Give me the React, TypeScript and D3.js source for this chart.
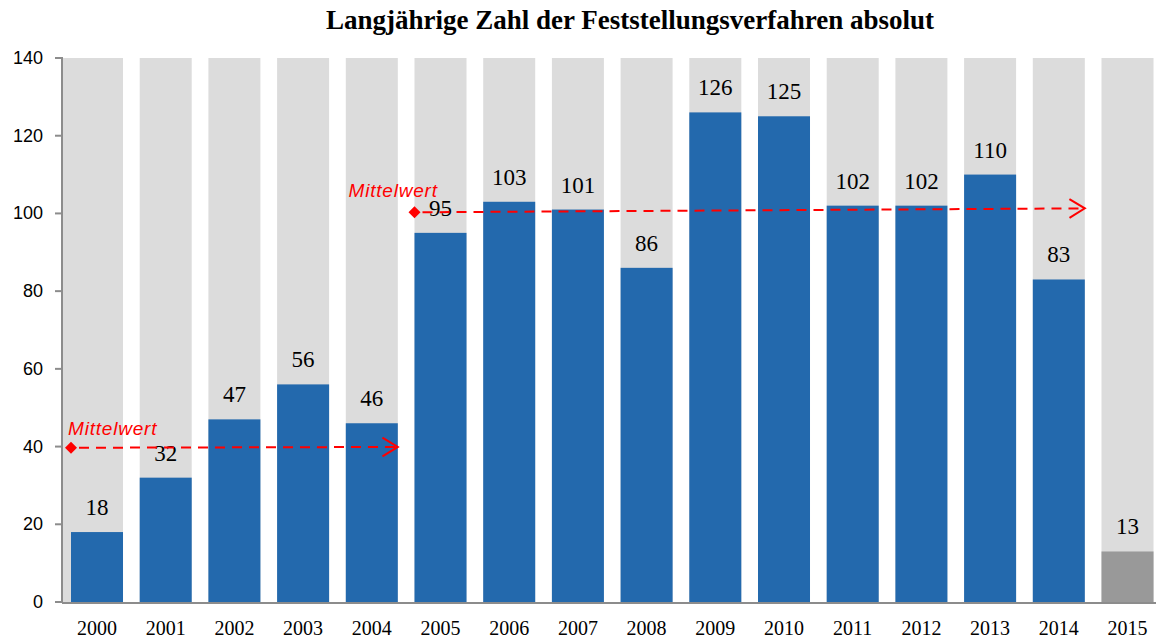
import React from "react";
import * as d3 from "d3";

const years = ["2000","2001","2002","2003","2004","2005","2006","2007","2008","2009","2010","2011","2012","2013","2014","2015"];
const values = [18, 32, 47, 56, 46, 95, 103, 101, 86, 126, 125, 102, 102, 110, 83, 13];
const partialYear = "2015";
const yTicks = [0, 20, 40, 60, 80, 100, 120, 140];
const yMax = 140;
const title = "Langjährige Zahl der Feststellungsverfahren absolut";
const meanLabel = "Mittelwert";
// mean lines: [fromYear, toYear, startValue, endValue]
const meanLines: [string, string, number, number][] = [
  ["2000", "2004", 39.7, 39.9],
  ["2005", "2014", 100.3, 101.3],
];

const W = 1156, H = 641;
const axisX = 62, top = 58, bottom = 602;

export default function App() {
  const step = 68.7;
  const pIn = 0.243, pOut = 9 / step;
  const x = d3.scaleBand<string>()
    .domain(years)
    .range([axisX, axisX + step * (years.length - pIn + 2 * pOut)])
    .paddingInner(pIn)
    .paddingOuter(pOut);
  const y = d3.scaleLinear().domain([0, yMax]).range([bottom, top]);
  const bw = x.bandwidth();
  const blue = "#2369ad";
  const bg = "#dcdcdc";
  const red = "#ff0000";
  const axisColor = "#8c8c8c";

  return (
    <svg width={W} height={H} style={{ position: "absolute", left: 0, top: 0, background: "#fff" }}>
      <text x={630} y={29} textAnchor="middle" fontFamily="'Liberation Serif', 'Times New Roman', serif" fontWeight="bold" fontSize={27}>{title}</text>

      {years.map((yr, i) => {
        const x0 = i === 0 ? axisX + 1 : (x(yr) as number);
        const x1 = (x(yr) as number) + bw;
        return <rect key={"bg" + yr} x={x0} y={y(yMax)} width={x1 - x0} height={y(0) - y(yMax)} fill={bg} />;
      })}

      {years.map((yr, i) => (
        <rect key={"b" + yr} x={x(yr)} y={y(values[i])} width={bw} height={y(0) - y(values[i])}
          fill={yr === partialYear ? "#999999" : blue} />
      ))}

      {years.map((yr, i) => (
        <text key={"v" + yr} x={(x(yr) as number) + bw / 2} y={y(values[i]) - 17} textAnchor="middle"
          fontFamily="'Liberation Serif', 'Times New Roman', serif" fontSize={23} fill="#000">{values[i]}</text>
      ))}

      {/* axes */}
      <line x1={axisX} x2={axisX} y1={top - 1} y2={bottom + 1} stroke={axisColor} strokeWidth={2} />
      <line x1={axisX} x2={W} y1={bottom + 1} y2={bottom + 1} stroke={axisColor} strokeWidth={2} />
      {yTicks.map((t) => (
        <g key={"t" + t}>
          <line x1={axisX - 7} x2={axisX} y1={y(t)} y2={y(t)} stroke={axisColor} strokeWidth={2} />
          <text x={43} y={y(t) + 6} textAnchor="end" fontFamily="'Liberation Sans', Arial, sans-serif" fontSize={18} fill="#000">{t}</text>
        </g>
      ))}
      {years.map((yr) => (
        <text key={"x" + yr} x={(x(yr) as number) + bw / 2} y={635} textAnchor="middle"
          fontFamily="'Liberation Serif', 'Times New Roman', serif" fontSize={20} fill="#000">{yr}</text>
      ))}

      {/* mean lines */}
      {meanLines.map(([a, b, v0, v1], k) => {
        const xs = (x(a) as number);
        const xe = (x(b) as number) + bw;
        const ys = y(v0), ye = y(v1);
        const ang = Math.atan2(ye - ys, xe - xs);
        const L = 18, spread = 0.55;
        const h1 = [xe - L * Math.cos(ang - spread), ye - L * Math.sin(ang - spread)];
        const h2 = [xe - L * Math.cos(ang + spread), ye - L * Math.sin(ang + spread)];
        const d = 6;
        const tx = k === 0 ? xs - 3 : xs - 66;
        const ty = k === 0 ? ys - 13 : ys - 15;
        return (
          <g key={"m" + k}>
            <line x1={xs + 8} y1={ys} x2={xe - 2} y2={ye} stroke={red} strokeWidth={2} strokeDasharray="10,7" />
            <path d={`M${h1[0]},${h1[1]}L${xe},${ye}L${h2[0]},${h2[1]}`} fill="none" stroke={red} strokeWidth={2} />
            <path d={`M${xs - d},${ys}L${xs},${ys - d}L${xs + d},${ys}L${xs},${ys + d}Z`} fill={red} />
            <text x={tx} y={ty} fontFamily="'Liberation Sans', Arial, sans-serif" fontStyle="italic" fontSize={19} letterSpacing={0.8} fill={red}>{meanLabel}</text>
          </g>
        );
      })}
    </svg>
  );
}
